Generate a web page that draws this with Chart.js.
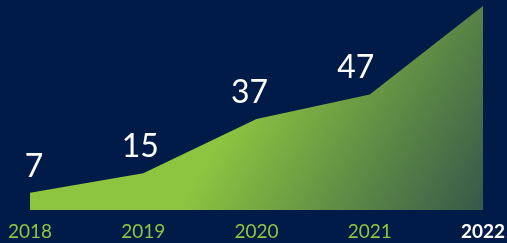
<!DOCTYPE html>
<html><head><meta charset="utf-8">
<script src="https://cdn.jsdelivr.net/npm/chart.js@4/dist/chart.umd.min.js"></script>
<style>
html,body{margin:0;padding:0;background:#001b48;}
#wrap{width:507px;height:243px;position:relative;}
</style></head>
<body><div id="wrap"><canvas id="c" width="507" height="243"></canvas></div>
<script>
const years = ['2018','2019','2020','2021','2022'];
const values = [7, 15, 37, 47, 83];
const valueLabels = ['7','15','37','47',''];
const labelShift = [4, -3, -7, -14, 0];

const labelPlugin = {
  id: 'vlabels',
  afterDatasetsDraw(chart){
    const ctx = chart.ctx;
    const meta = chart.getDatasetMeta(0);
    ctx.save();
    ctx.fillStyle = '#ffffff';
    ctx.font = '400 32px Lato, "Open Sans", sans-serif';
    ctx.textAlign = 'center';
    ctx.textBaseline = 'alphabetic';
    meta.data.forEach((pt,i)=>{
      if(!valueLabels[i]) return;
      ctx.fillText(valueLabels[i], pt.x + labelShift[i], pt.y - 16);
    });
    ctx.restore();
  }
};

const ctx = document.getElementById('c').getContext('2d');
new Chart(ctx, {
  type: 'line',
  data: {
    labels: years,
    datasets: [{
      data: values,
      fill: 'origin',
      borderWidth: 0,
      pointRadius: 0,
      tension: 0,
      backgroundColor: (c) => {
        const a = c.chart.chartArea;
        if(!a) return '#8dc63f';
        const g = c.chart.ctx.createLinearGradient(a.left + (a.right-a.left)*0.5, a.top + (a.bottom-a.top)*0.35, a.right, a.bottom);
        g.addColorStop(0, '#8cc540');
        g.addColorStop(1, '#36584a');
        return g;
      }
    }]
  },
  options: {
    responsive: false,
    animation: false,
    devicePixelRatio: 1,
    layout: { padding: { left: 30, right: 24, top: 6, bottom: 0 } },
    plugins: { legend: {display:false}, tooltip: {enabled:false} },
    scales: {
      x: {
        offset: false,
        grid: { display:false, drawTicks:false },
        border: { display:false },
        afterFit: (s) => { s.height = 33; s.paddingLeft = 0; s.paddingRight = 0; },
        ticks: {
          padding: 10,
          maxRotation: 0,
          autoSkip: false,
          font: (c) => ({ family: 'Lato, "Open Sans", sans-serif', size: 19, weight: c.index===4 ? 'bold' : '400' }),
          color: (c) => c.index===4 ? '#ffffff' : '#8dc63f'
        }
      },
      y: { display:false, min:0, max:83 }
    }
  },
  plugins: [labelPlugin]
});
</script></body></html>
